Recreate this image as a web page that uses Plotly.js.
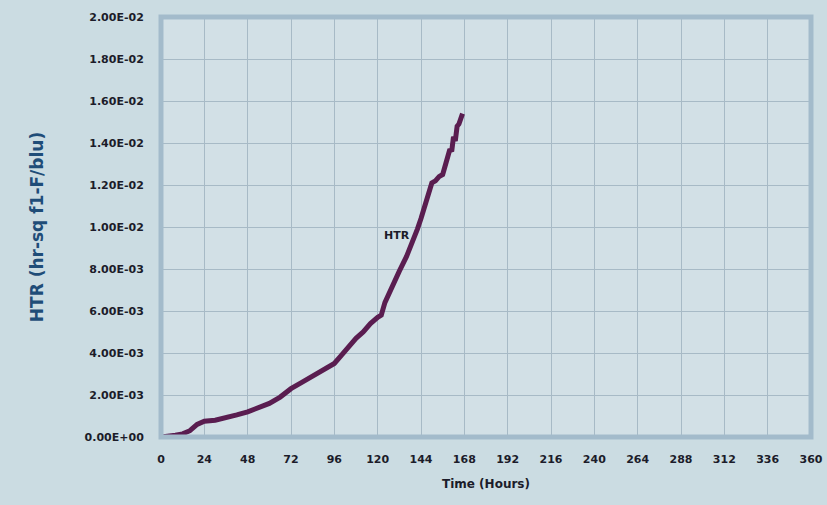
<!DOCTYPE html>
<html><head><meta charset="utf-8">
<script src="https://cdn.plot.ly/plotly-3.0.1.min.js"></script>
<style>html,body{margin:0;padding:0;background:#cbdce2;}#chart{width:827px;height:505px;}</style>
</head><body><div id="chart"></div>
<script>
const hours = [0,4,8,12,16,20,24,30,36,42,48,54,60,66,72,78,84,90,96,100,104,108,112,116,120,122,124,128,132,136,140,142,144,146,148,150,152,154,156,158,160,161,162,163,164,165,166,167];
const htr = [0,0.00003,0.00008,0.00015,0.0003,0.0006,0.00075,0.0008,0.0009,0.00105,0.0012,0.0014,0.0016,0.0019,0.0023,0.0026,0.0029,0.0032,0.0035,0.0039,0.0043,0.0047,0.005,0.0054,0.0057,0.0058,0.0064,0.0072,0.0079,0.0086,0.0094,0.0099,0.0104,0.011,0.0115,0.0121,0.0122,0.0124,0.0125,0.0132,0.0137,0.0136,0.0143,0.0141,0.0148,0.0149,0.0152,0.0154];
const xTicks = [0,24,48,72,96,120,144,168,192,216,240,264,288,312,336,360];
const yTicks = [0,0.002,0.004,0.006,0.008,0.010,0.012,0.014,0.016,0.018,0.020];
const yTickText = ['0.00E+00','2.00E-03','4.00E-03','6.00E-03','8.00E-03','1.00E-02','1.20E-02','1.40E-02','1.60E-02','1.80E-02','2.00E-02'];
const seriesName = 'HTR';
const xTitle = 'Time (Hours)';
const yTitle = 'HTR (hr-sq f1-F/blu)';

const tickFont = {family:'DejaVu Sans, sans-serif', size:11, color:'#1c1c2a', weight:'bold'};
const data = [{
  x: hours, y: htr, type:'scatter', mode:'lines', name: seriesName,
  line:{color:'#5a1d50', width:5}
}];
const layout = {
  width:827, height:505,
  margin:{l:161, r:16, t:17, b:68},
  paper_bgcolor:'#cbdce2', plot_bgcolor:'#d2e0e6',
  showlegend:false,
  font:{family:'DejaVu Sans, sans-serif'},
  xaxis:{range:[0,360], tickvals:xTicks, ticktext:xTicks.map(String), tickfont:tickFont,
    showgrid:true, gridcolor:'#a7bac6', gridwidth:1, zeroline:false, showline:false,
    ticks:'outside', ticklen:12, tickcolor:'rgba(0,0,0,0)', fixedrange:true,
    title:{text:'<b>'+xTitle+'</b>', font:{size:12, color:'#1c1c2a'}, standoff:14}, automargin:false},
  yaxis:{range:[0,0.02], tickvals:yTicks, ticktext:yTickText, tickfont:tickFont,
    showgrid:true, gridcolor:'#a7bac6', gridwidth:1, zeroline:false, showline:false,
    ticks:'outside', ticklen:14, tickcolor:'rgba(0,0,0,0)',
    title:{text:'<b>'+yTitle+'</b>', font:{size:17, color:'#1f4d78'}, standoff:36}, automargin:false},
  shapes:[{type:'rect', xref:'paper', yref:'paper', x0:0, x1:1, y0:0, y1:1,
    line:{color:'#a3bbcb', width:5}, fillcolor:'rgba(0,0,0,0)'}],
  annotations:[{x:139, y:0.0096, xref:'x', yref:'y', text:'<b>'+seriesName+'</b>', showarrow:false,
    xanchor:'right', font:{size:11, color:'#1c1c2a'}}]
};
Plotly.newPlot('chart', data, layout, {displayModeBar:false, staticPlot:true});
</script></body></html>
